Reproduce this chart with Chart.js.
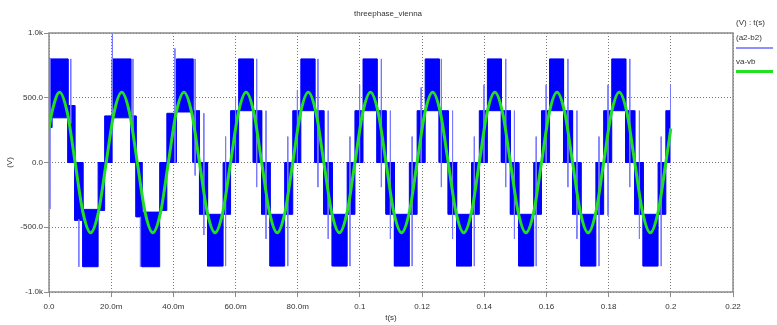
<!DOCTYPE html>
<html>
<head>
<meta charset="utf-8">
<script src="https://cdn.jsdelivr.net/npm/chart.js@4.4.0/dist/chart.umd.min.js"></script>
<style>
  body { margin: 0; background: #fff; }
  #wrap { position: relative; width: 777px; height: 325px; font-family: "Liberation Sans", Arial, sans-serif; color: #333; }
  .lbl { position: absolute; font-size: 8px; line-height: 8px; white-space: nowrap; }
  .key { position: absolute; }
</style>
</head>
<body>
<div id="wrap">
  <canvas id="grafico" width="777" height="325"></canvas>
  <div class="lbl" style="left:354px; top:10px;">threephase_vienna</div>
  <div class="lbl" style="left:736px; top:19px;">(V) : t(s)</div>
  <div class="lbl" style="left:736px; top:34px;">(a2-b2)</div>
  <div class="key" style="left:736px; top:47px; width:37px; height:2px; background:#8f8fff;"></div>
  <div class="lbl" style="left:736px; top:58px;">va-vb</div>
  <div class="key" style="left:736px; top:70px; width:37px; height:3px; background:#22e022;"></div>
</div>
<script>
// eixo x em ms (convertido para s no gráfico)
const xTickValues = [0, 0.02, 0.04, 0.06, 0.08, 0.1, 0.12, 0.14, 0.16, 0.18, 0.2, 0.22];
const xTickLabels = ['0.0', '20.0m', '40.0m', '60.0m', '80.0m', '0.1', '0.12', '0.14', '0.16', '0.18', '0.2', '0.22'];
const yTickValues = [-1000, -500, 0, 500, 1000];
const yTickLabels = ['-1.0k', '-500.0', '0.0', '500.0', '1.0k'];

// va-vb (senoide), amostras
const vabT = [0, 0.9, 3.4, 5.9, 8.4, 10.9, 13.4, 15.9, 18.4,
  20.9, 23.4, 25.9, 28.4, 30.9, 33.4, 35.9, 38.4,
  40.9, 43.4, 45.9, 48.4, 50.9, 53.4, 55.9, 58.4,
  60.9, 63.4, 65.9, 68.4, 70.9, 73.4, 75.9, 78.4,
  80.9, 83.4, 85.9, 88.4, 90.9, 93.4, 95.9, 98.4,
  100.9, 103.4, 105.9, 108.4, 110.9, 113.4, 115.9, 118.4,
  120.9, 123.4, 125.9, 128.4, 130.9, 133.4, 135.9, 138.4,
  140.9, 143.4, 145.9, 148.4, 150.9, 153.4, 155.9, 158.4,
  160.9, 163.4, 165.9, 168.4, 170.9, 173.4, 175.9, 178.4,
  180.9, 183.4, 185.9, 188.4, 190.9, 193.4, 195.9, 198.4, 200];
const vabV = [262, 383, 542, 383, 0, -383, -542, -383, 0,
  383, 542, 383, 0, -383, -542, -383, 0,
  383, 542, 383, 0, -383, -542, -383, 0,
  383, 542, 383, 0, -383, -542, -383, 0,
  383, 542, 383, 0, -383, -542, -383, 0,
  383, 542, 383, 0, -383, -542, -383, 0,
  383, 542, 383, 0, -383, -542, -383, 0,
  383, 542, 383, 0, -383, -542, -383, 0,
  383, 542, 383, 0, -383, -542, -383, 0,
  383, 542, 383, 0, -383, -542, -383, 0, 262];

// (a2-b2): blocos de PWM, instantes de troca (ms) e faixa min/max de cada bloco
const blocoT = [0, 1.0, 6.1, 8.3, 10.9, 15.8, 17.9,
  20.3, 26.3, 28.0, 29.9, 35.6, 37.9,
  41.0, 46.3, 48.4, 51.0, 56.0, 58.4,
  61.0, 65.7, 68.4, 71.1, 75.8, 78.4,
  81.0, 85.5, 88.4, 91.1, 95.9, 98.4,
  101.0, 105.5, 108.4, 111.1, 115.9, 118.4,
  121.0, 125.5, 128.4, 131.1, 135.9, 138.4,
  141.0, 145.5, 148.4, 151.1, 155.9, 158.4,
  161.0, 165.5, 168.4, 171.1, 175.9, 178.4,
  181.0, 185.5, 188.4, 191.1, 195.9, 198.4,
  200];
const blocoMin = [270, 345, 0, -447, -805, -370, 0,
  345, 0, -420, -805, -370, 0,
  390, 0, -400, -800, -400, 0,
  400, 0, -400, -800, -400, 0,
  400, 0, -400, -800, -400, 0,
  400, 0, -400, -800, -400, 0,
  400, 0, -400, -800, -400, 0,
  400, 0, -400, -800, -400, 0,
  400, 0, -400, -800, -400, 0,
  400, 0, -400, -800, -400, 0];
const blocoMax = [800, 800, 440, 0, -362, 0, 360,
  800, 360, 0, -383, 0, 380,
  800, 400, 0, -400, 0, 400,
  800, 400, 0, -400, 0, 400,
  800, 400, 0, -400, 0, 400,
  800, 400, 0, -400, 0, 400,
  800, 400, 0, -400, 0, 400,
  800, 400, 0, -400, 0, 400,
  800, 400, 0, -400, 0, 400,
  800, 400, 0, -400, 0, 400];

// picos finos de comutação (ms, topo, base)
const picoT = [0.3, 7.0, 9.6, 20.4, 27.0, 29.4,
  40.5, 47.0, 49.8, 56.8,
  60.0, 66.8, 69.8, 76.8,
  79.9, 86.5, 89.8, 96.8,
  99.9, 106.9, 109.8, 116.8,
  119.7, 126.2, 129.8, 136.8,
  139.9, 146.9, 149.7, 156.7,
  159.9, 166.9, 169.8, 176.9,
  179.8, 186.8, 189.9, 196.9, 199.9];
const picoMax = [800, 800, -440, 1000, 800, -420,
  880, 800, 380, 200,
  500, 800, 400, 200,
  560, 800, 400, 200,
  600, 800, 400, 200,
  580, 800, 400, 200,
  600, 800, 400, 200,
  600, 800, 400, 200,
  600, 800, 400, 200, 600];
const picoMin = [-360, 300, -805, 350, 250, -805,
  0, -100, -560, -800,
  0, -190, -590, -800,
  0, -190, -590, -800,
  0, -190, -590, -800,
  0, -190, -590, -800,
  0, -190, -590, -800,
  0, -190, -590, -800,
  -410, -190, -590, -800, 0];

const ms = v => v / 1000;

function montarBloco(valores) {
  const pts = [];
  for (let i = 0; i < valores.length; i++) {
    pts.push({ x: ms(blocoT[i]), y: valores[i] });
    pts.push({ x: ms(blocoT[i + 1]), y: valores[i] });
  }
  return pts;
}

function montarPicos() {
  const pts = [];
  picoT.forEach((t, i) => {
    pts.push({ x: ms(t), y: picoMax[i] });
    pts.push({ x: ms(t), y: picoMin[i] });
    pts.push({ x: ms(t), y: null });
  });
  return pts;
}

const senoide = vabT.map((t, i) => ({ x: ms(t), y: vabV[i] }));

const fonte = { family: '"Liberation Sans", Arial, sans-serif', size: 8 };

const moldura = {
  id: 'moldura',
  afterDraw(chart) {
    const { ctx, chartArea: a } = chart;
    ctx.save();
    ctx.strokeStyle = '#8c8c8c';
    ctx.lineWidth = 1.5;
    ctx.strokeRect(a.left, a.top, a.right - a.left, a.bottom - a.top);
    ctx.restore();
  }
};

function eixo(extra) {
  return Object.assign({
    border: { display: false, dash: [1, 2] },
    grid: { color: '#777', tickBorderDash: [], tickColor: '#8c8c8c', tickLength: 5, lineWidth: 1 }
  }, extra);
}

new Chart(document.getElementById('grafico').getContext('2d'), {
  type: 'line',
  data: {
    datasets: [
      {
        label: 'va-vb',
        data: senoide,
        borderColor: '#20e020',
        borderWidth: 3,
        pointRadius: 0,
        cubicInterpolationMode: 'monotone',
        fill: false
      },
      {
        label: 'picos',
        data: montarPicos(),
        borderColor: '#7a7aff',
        borderWidth: 1,
        pointRadius: 0,
        spanGaps: false,
        fill: false
      },
      {
        label: 'min',
        data: montarBloco(blocoMin),
        borderColor: '#0000ff',
        borderWidth: 1,
        pointRadius: 0,
        fill: false
      },
      {
        label: '(a2-b2)',
        data: montarBloco(blocoMax),
        borderColor: '#0000ff',
        borderWidth: 1,
        backgroundColor: '#0000ff',
        pointRadius: 0,
        fill: '-1'
      }
    ]
  },
  options: {
    responsive: false,
    animation: false,
    events: [],
    layout: { padding: { top: 33, right: 44, left: 0, bottom: 0 } },
    plugins: { legend: { display: false }, title: { display: false }, tooltip: { enabled: false } },
    scales: {
      x: eixo({
        type: 'linear',
        min: 0,
        max: 0.22,
        afterBuildTicks: s => { s.ticks = xTickValues.map(v => ({ value: v })); },
        afterFit: s => { s.height = 33; },
        ticks: {
          autoSkip: false, maxRotation: 0, padding: 5, color: '#333', font: fonte,
          callback: (v, i) => xTickLabels[i]
        },
        title: { display: true, text: 't(s)', color: '#333', font: fonte, padding: { top: 0, bottom: 2 } }
      }),
      y: eixo({
        min: -1000,
        max: 1000,
        afterBuildTicks: s => { s.ticks = yTickValues.map(v => ({ value: v })); },
        afterFit: s => { s.width = 49; },
        ticks: {
          padding: 1, color: '#333', font: fonte,
          callback: (v, i) => yTickLabels[i]
        },
        title: { display: true, text: '(V)', color: '#333', font: fonte, padding: { top: 5, bottom: 0 } }
      })
    }
  },
  plugins: [moldura]
});
</script>
</body>
</html>
